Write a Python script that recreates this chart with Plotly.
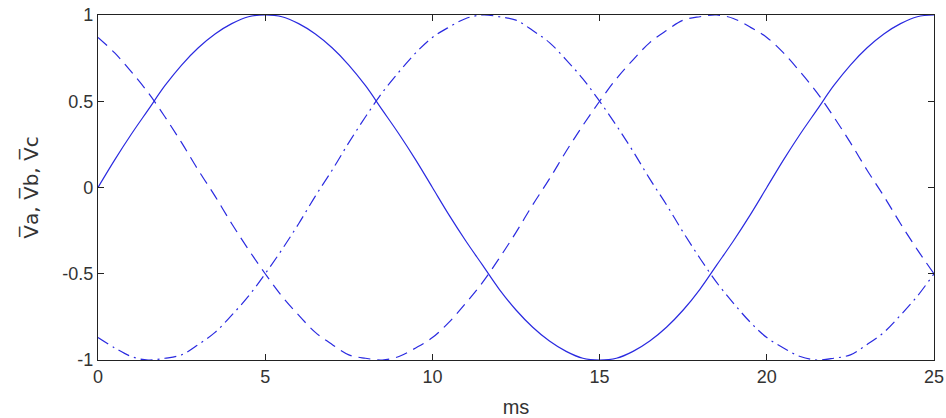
import plotly.graph_objects as go

t_ms = [i * 0.5 for i in range(51)]

va = [0, 0.16, 0.31, 0.45, 0.59, 0.71, 0.81, 0.89, 0.95, 0.99, 1.00,
      0.99, 0.95, 0.89, 0.81, 0.71, 0.59, 0.45, 0.31, 0.16, 0.00,
      -0.16, -0.31, -0.45, -0.59, -0.71, -0.81, -0.89, -0.95, -0.99, -1.00,
      -0.99, -0.95, -0.89, -0.81, -0.71, -0.59, -0.45, -0.31, -0.16, 0.00,
      0.16, 0.31, 0.45, 0.59, 0.71, 0.81, 0.89, 0.95, 0.99, 1.00]

vb = [0.87, 0.78, 0.67, 0.55, 0.41, 0.26, 0.10, -0.05, -0.21, -0.36, -0.50,
      -0.63, -0.74, -0.84, -0.91, -0.97, -0.99, -1.00, -0.98, -0.93, -0.87,
      -0.78, -0.67, -0.55, -0.41, -0.26, -0.10, 0.05, 0.21, 0.36, 0.50,
      0.63, 0.74, 0.84, 0.91, 0.97, 0.99, 1.00, 0.98, 0.93, 0.87,
      0.78, 0.67, 0.55, 0.41, 0.26, 0.10, -0.05, -0.21, -0.36, -0.50]

vc = [-0.87, -0.93, -0.98, -1.00, -0.99, -0.97, -0.91, -0.84, -0.74, -0.63, -0.50,
      -0.36, -0.21, -0.05, 0.10, 0.26, 0.41, 0.55, 0.67, 0.78, 0.87,
      0.93, 0.98, 1.00, 0.99, 0.97, 0.91, 0.84, 0.74, 0.63, 0.50,
      0.36, 0.21, 0.05, -0.10, -0.26, -0.41, -0.55, -0.67, -0.78, -0.87,
      -0.93, -0.98, -1.00, -0.99, -0.97, -0.91, -0.84, -0.74, -0.63, -0.50]

x_ticks = [0, 5, 10, 15, 20, 25]
y_ticks = [-1, -0.5, 0, 0.5, 1]
y_tick_text = ["-1", "-0.5", "0", "0.5", "1"]

line_color = "#2a2ae0"
font_family = "Liberation Sans, Arial, sans-serif"

fig = go.Figure()
fig.add_trace(go.Scatter(x=t_ms, y=va, mode="lines", line=dict(color=line_color, width=1.2, shape="spline")))
fig.add_trace(go.Scatter(x=t_ms, y=vb, mode="lines", line=dict(color=line_color, width=1.2, shape="spline", dash="12px,7px")))
fig.add_trace(go.Scatter(x=t_ms, y=vc, mode="lines", line=dict(color=line_color, width=1.2, shape="spline", dash="12px,5px,2px,5px")))

axis_common = dict(
    showgrid=False, zeroline=False, showline=True, linecolor="#222222", linewidth=1.2,
    mirror="ticks", ticks="inside", ticklen=6, tickcolor="#222222", tickwidth=1,
    tickfont=dict(family=font_family, size=18, color="#333333"),
    automargin=False,
)

fig.update_layout(
    width=946, height=418,
    margin=dict(l=98, r=12, t=15, b=58),
    paper_bgcolor="white", plot_bgcolor="white",
    showlegend=False,
    font=dict(family=font_family, size=18, color="#333333"),
    xaxis=dict(range=[0, 25], tickvals=x_ticks, ticktext=[str(v) for v in x_ticks],
               title=dict(text="ms", standoff=14, font=dict(size=20)), **axis_common),
    yaxis=dict(range=[-1, 1], tickvals=y_ticks, ticktext=y_tick_text,
               title=dict(text="V\u0305a, V\u0305b, V\u0305c", standoff=18,
                          font=dict(size=20, family="DejaVu Sans, sans-serif")), **axis_common),
)

fig.write_html("out.html", config={"displayModeBar": False},
               post_script="document.body.style.margin='0';document.body.style.overflow='hidden';")
